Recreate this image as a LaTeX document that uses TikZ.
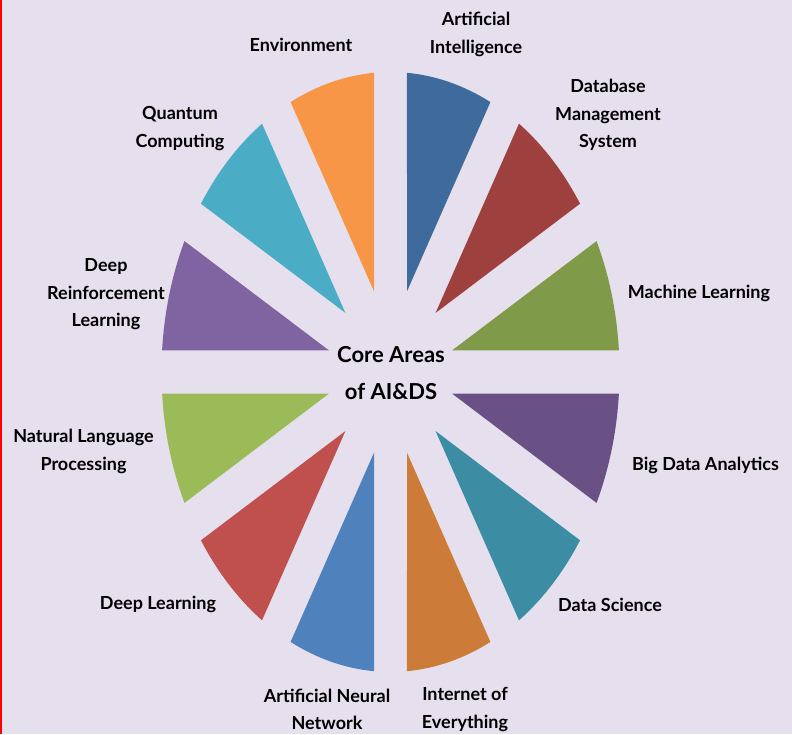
\documentclass[tikz,border=0pt]{standalone}
\usepackage{fontspec}
\setmainfont{Lato}
\usepackage{xcolor}
\definecolor{fondo}{HTML}{E6E0EE}
\definecolor{mlgreen}{HTML}{7F9A48}
\definecolor{dbred}{HTML}{9E413E}
\definecolor{aiblue}{HTML}{3F6A9C}
\definecolor{envorange}{HTML}{F79646}
\definecolor{qcyan}{HTML}{4BACC6}
\definecolor{drlpurple}{HTML}{8064A2}
\definecolor{nlpgreen}{HTML}{9BBB59}
\definecolor{dlred}{HTML}{C0504D}
\definecolor{annblue}{HTML}{4F81BD}
\definecolor{ioeorange}{HTML}{CC7B38}
\definecolor{dsteal}{HTML}{3C8DA3}
\definecolor{bdpurple}{HTML}{695185}

\begin{document}
\begin{tikzpicture}[x=1pt,y=1pt,
    etiqueta/.style={align=center,inner sep=0pt,font=\bfseries\fontsize{18}{27.5}\selectfont}]
            \useasboundingbox (0,0) rectangle (792,734);
            \clip (0,0) rectangle (792,734);
            \fill[fondo] (0,0) rectangle (792,734); % fondo
            \draw[red,line width=1.5] (0.75,0) -- (0.75,734); % borde
            \begin{scope}[shift={(390.5,362)},yscale=1.31]
            \foreach \a/\c in {0/mlgreen,30/dbred,60/aiblue,90/envorange,120/qcyan,150/drlpurple,
                180/nlpgreen,210/dlred,240/annblue,270/ioeorange,300/dsteal,330/bdpurple}
            \fill[\c] ({\a+15}:63.75) -- ({\a+4.13}:229)
                arc[start angle={\a+4.13},end angle={\a+25.87},radius=229] -- cycle; % sectores
            \end{scope}
            \node[align=center,inner sep=0pt,font=\bfseries\fontsize{22}{37}\selectfont] (core) at (391,360.5) {Core Areas\\of AI\&DS};
            \node[etiqueta] (ai) at (476,699.5) {Artificial\\Intelligence};
            \node[etiqueta] (env) at (301,689) {Environment};
            \node[etiqueta] (dbms) at (608,619) {Database\\Management\\System};
            \node[etiqueta] (qc) at (180,605.5) {Quantum\\Computing};
            \node[etiqueta] (ml) at (699,441) {Machine Learning};
            \node[etiqueta] (drl) at (106,439.5) {Deep\\Reinforcement\\Learning};
            \node[etiqueta] (nlp) at (83.5,282.5) {Natural Language\\Processing};
            \node[etiqueta] (bda) at (705.5,269) {Big Data Analytics};
            \node[etiqueta] (dl) at (158,130) {Deep Learning};
            \node[etiqueta] (ds) at (610,129) {Data Science};
            \node[etiqueta] (ann) at (327,24.5) {Artificial Neural\\Network};
            \node[etiqueta] (ioe) at (465,24.5) {Internet of\\Everything};
\end{tikzpicture}
\end{document}
